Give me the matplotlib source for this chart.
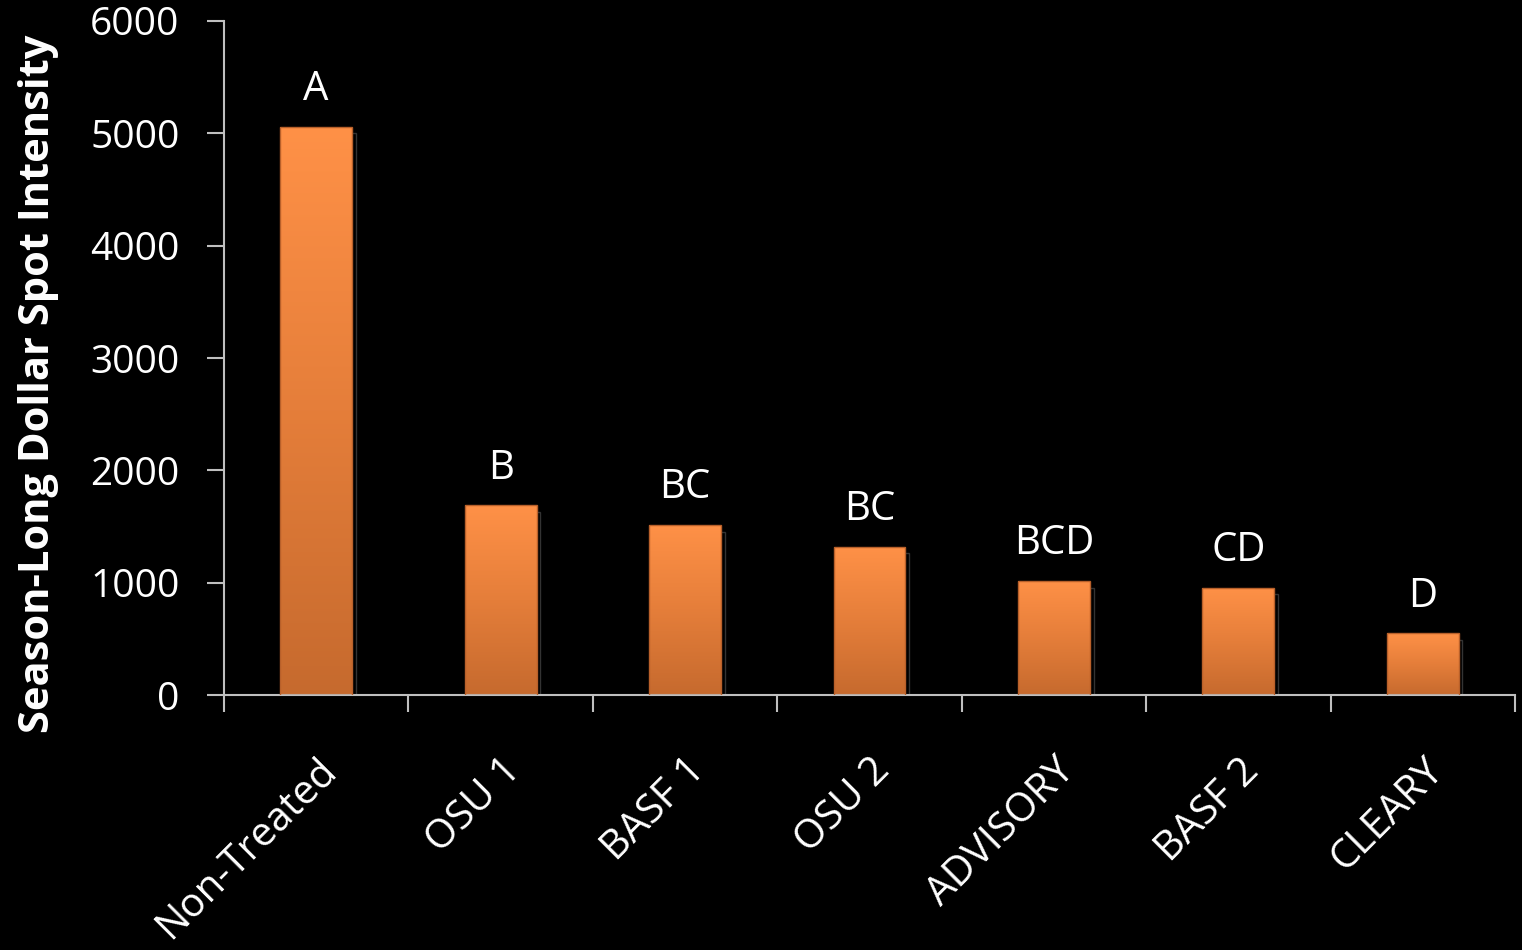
import numpy as np
import matplotlib
matplotlib.use("Agg")
import matplotlib.pyplot as plt
from matplotlib.colors import LinearSegmentedColormap

# data
treatments = ["Non-Treated", "OSU 1", "BASF 1", "OSU 2", "ADVISORY", "BASF 2", "CLEARY"]
intensity = [5060, 1690, 1515, 1320, 1015, 955, 550]
groups = ["A", "B", "BC", "BC", "BCD", "CD", "D"]
yticks = [0, 1000, 2000, 3000, 4000, 5000, 6000]

plt.rcParams['font.family'] = ['Open Sans', 'DejaVu Sans']

fig = plt.figure(figsize=(15.22, 9.5), dpi=100, facecolor="black")
ax = fig.add_axes([0.1472, 0.2684, 0.8482, 0.7095], facecolor="black")

x = np.arange(len(treatments))
width = 0.39
grad = LinearSegmentedColormap.from_list("orng", ["#C66A2E", "#E57E3A", "#FF9147"])
ramp = np.linspace(0, 1, 256).reshape(-1, 1)

for xi, val in zip(x, intensity):
    # faint shadow to the right
    ax.add_patch(plt.Rectangle((xi - width / 2 + 0.02, 0), width, val - 60,
                               facecolor="none", edgecolor="#333333", lw=1, zorder=1))
    bar = ax.bar(xi, val, width=width, color="none", edgecolor="#B8602A", lw=1, zorder=3)[0]
    im = ax.imshow(ramp, cmap=grad, aspect="auto", origin="lower",
                   extent=[xi - width / 2, xi + width / 2, 0, val], zorder=2)
    im.set_clip_path(bar)

for xi, val, g in zip(x, intensity, groups):
    ax.annotate(g, (xi, val), xytext=(0, 12), textcoords="offset points",
                ha="center", va="bottom", color="white", fontsize=29)

ax.set_xlim(-0.5, len(treatments) - 0.5)
ax.set_ylim(0, 6000)
ax.set_yticks(yticks)
ax.set_yticklabels([str(t) for t in yticks], color="white", fontsize=28)
ax.set_xticks(np.arange(len(treatments) + 1) - 0.5, minor=True)
ax.set_xticks(x)
ax.set_xticklabels(treatments, rotation=45, ha="right", rotation_mode="anchor",
                   color="white", fontsize=29)
ax.tick_params(axis="x", which="major", length=0, pad=40)
ax.tick_params(axis="x", which="minor", length=12, width=1.5, color="#BFBFBF", direction="out")
ax.tick_params(axis="y", length=12, width=1.5, color="#BFBFBF", pad=20)

for side in ["top", "right"]:
    ax.spines[side].set_visible(False)
for side in ["left", "bottom"]:
    ax.spines[side].set_color("#BFBFBF")
    ax.spines[side].set_linewidth(1.5)

ax.set_ylabel("Season-Long Dollar Spot Intensity", color="white", fontsize=30,
              fontweight="bold", va="center")
ax.yaxis.set_label_coords(-0.144, 0.461)

fig.savefig("out.png", dpi=100, facecolor="black")
